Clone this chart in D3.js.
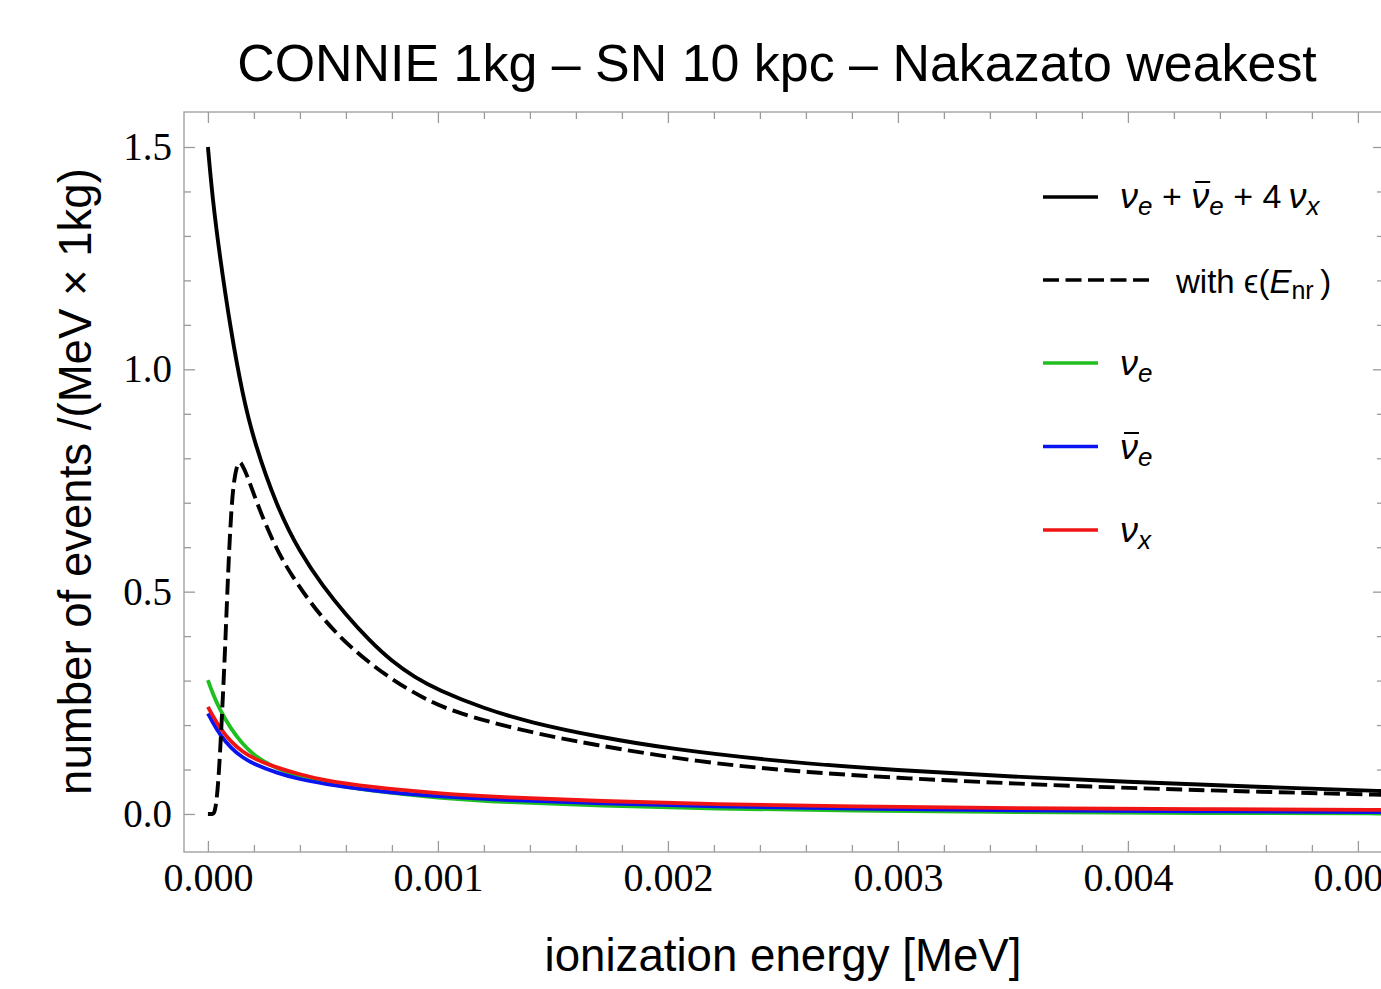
<!DOCTYPE html>
<html>
<head>
<meta charset="utf-8">
<script src="https://cdn.jsdelivr.net/npm/d3@7"></script>
<style>
  html, body { margin: 0; padding: 0; background: #fff; }
  svg { display: block; }
</style>
</head>
<body>
<svg id="chart" width="1381" height="989"></svg>
<script>
// ---------------- DATA ----------------
const titleText = "CONNIE 1kg \u2013 SN 10 kpc \u2013 Nakazato weakest";
const xLabelText = "ionization energy [MeV]";
const yLabelText = "number of events /(MeV \u00d7 1kg)";

const xMajorTicks = [0, 0.001, 0.002, 0.003, 0.004, 0.005];
const yMajorTicks = [0, 0.5, 1.0, 1.5];

// total nu_e + anti-nu_e + 4 nu_x (solid black)
const energyTotal = [0, 0.00002, 0.00005, 0.0001, 0.00015, 0.0002, 0.0003, 0.0004, 0.0005, 0.0006, 0.0007, 0.0008, 0.0009, 0.001, 0.0012, 0.0014, 0.0017, 0.002, 0.0025, 0.003, 0.0035, 0.004, 0.0045, 0.0052];
const totalEvents = [1.50, 1.385, 1.26, 1.085, 0.945, 0.838, 0.69, 0.588, 0.512, 0.448, 0.391, 0.343, 0.307, 0.279, 0.237, 0.206, 0.173, 0.147, 0.117, 0.098, 0.084, 0.072, 0.062, 0.050];

// with efficiency eps(E_nr) (dashed black)
const energyEff = [0, 0.00002, 0.00003, 0.000045, 0.00006, 0.000074, 0.000088, 0.000103, 0.000115, 0.000125, 0.000132, 0.000139, 0.000146, 0.000168, 0.000212, 0.000284, 0.000357, 0.0005, 0.00065, 0.0008, 0.00094, 0.00108, 0.00137, 0.00166, 0.00214, 0.00257, 0.003, 0.00344, 0.0038, 0.0044, 0.0052];
const effEvents = [0, 0, 0, 0.06, 0.21, 0.36, 0.55, 0.70, 0.755, 0.78, 0.788, 0.792, 0.788, 0.766, 0.70, 0.610, 0.540, 0.436, 0.360, 0.302, 0.259, 0.227, 0.187, 0.157, 0.116, 0.095, 0.081, 0.070, 0.062, 0.052, 0.042];

// individual flavours
const energyFlavor = [0, 0.00002, 0.00005, 0.0001, 0.00015, 0.0002, 0.0003, 0.0004, 0.0005, 0.0007, 0.001, 0.0013, 0.0017, 0.0022, 0.0028, 0.0035, 0.0043, 0.0052];
const nuE    = [0.301, 0.272, 0.236, 0.191, 0.158, 0.131, 0.101, 0.084, 0.070, 0.052, 0.036, 0.026, 0.019, 0.012, 0.007, 0.004, 0.002, 0.001];
const nuEbar = [0.226, 0.207, 0.180, 0.148, 0.127, 0.112, 0.092, 0.078, 0.068, 0.053, 0.039, 0.031, 0.024, 0.017, 0.012, 0.008, 0.006, 0.004];
const nuX    = [0.241, 0.222, 0.195, 0.162, 0.140, 0.124, 0.104, 0.089, 0.076, 0.061, 0.046, 0.037, 0.029, 0.022, 0.017, 0.013, 0.011, 0.009];

// ---------------- LAYOUT ----------------
const svg = d3.select("#chart");
const plot = { left: 184, top: 112, right: 1384, bottom: 852 };
const x = d3.scaleLinear().domain([-0.000104, 0.0051135]).range([plot.left, plot.right]);
const y = d3.scaleLinear().domain([-0.0855, 1.5787]).range([plot.bottom, plot.top]);

const frameColor = "#9a9a9a";
const sansFont = "'Liberation Sans', Arial, Helvetica, sans-serif";
const serifFont = "'Liberation Serif', 'Times New Roman', serif";

const xMinor = d3.range(0, 0.00521, 0.0002).filter(v => !xMajorTicks.some(m => Math.abs(m - v) < 1e-9));
const yMinor = d3.range(0, 1.5001, 0.1).filter(v => !yMajorTicks.some(m => Math.abs(m - v) < 1e-9));

// clip
svg.append("defs").append("clipPath").attr("id", "clip")
  .append("rect").attr("x", plot.left).attr("y", plot.top)
  .attr("width", plot.right - plot.left).attr("height", plot.bottom - plot.top);

// axes (ticks inward)
function styleAxis(g) {
  g.select(".domain").remove();
  g.selectAll(".tick line").attr("stroke", frameColor).attr("stroke-width", 1.3);
}
const majLen = 11, minLen = 7;
svg.append("g").attr("transform", `translate(0,${plot.bottom})`)
  .call(d3.axisBottom(x).tickValues(xMajorTicks).tickSize(-majLen).tickPadding(11).tickFormat(d3.format(".3f")))
  .call(styleAxis)
  .call(g => g.selectAll("text").attr("font-family", serifFont).attr("font-size", 40).attr("fill", "#000"));
svg.append("g").attr("transform", `translate(0,${plot.bottom})`)
  .call(d3.axisBottom(x).tickValues(xMinor).tickSize(-minLen).tickFormat(""))
  .call(styleAxis);
svg.append("g").attr("transform", `translate(0,${plot.top})`)
  .call(d3.axisTop(x).tickValues(xMajorTicks).tickSize(-majLen).tickFormat(""))
  .call(styleAxis);
svg.append("g").attr("transform", `translate(0,${plot.top})`)
  .call(d3.axisTop(x).tickValues(xMinor).tickSize(-minLen).tickFormat(""))
  .call(styleAxis);

svg.append("g").attr("transform", `translate(${plot.left},0)`)
  .call(d3.axisLeft(y).tickValues(yMajorTicks).tickSize(-majLen).tickPadding(12).tickFormat(d3.format(".1f")))
  .call(styleAxis)
  .call(g => g.selectAll("text").attr("font-family", serifFont).attr("font-size", 39).attr("fill", "#000"));
svg.append("g").attr("transform", `translate(${plot.left},0)`)
  .call(d3.axisLeft(y).tickValues(yMinor).tickSize(-minLen).tickFormat(""))
  .call(styleAxis);
svg.append("g").attr("transform", `translate(${plot.right},0)`)
  .call(d3.axisRight(y).tickValues(yMajorTicks).tickSize(-majLen).tickFormat(""))
  .call(styleAxis);
svg.append("g").attr("transform", `translate(${plot.right},0)`)
  .call(d3.axisRight(y).tickValues(yMinor).tickSize(-minLen).tickFormat(""))
  .call(styleAxis);

// frame
svg.append("rect").attr("x", plot.left).attr("y", plot.top)
  .attr("width", plot.right - plot.left).attr("height", plot.bottom - plot.top)
  .attr("fill", "none").attr("stroke", frameColor).attr("stroke-width", 1.3);

// curves
const smoothLine = d3.line().x(d => x(d[0])).y(d => y(d[1])).curve(d3.curveBasis);
const gCurves = svg.append("g").attr("clip-path", "url(#clip)");
const series = [
  { e: energyFlavor, v: nuE, color: "#1fbf1f", dash: null, w: 3.8 },
  { e: energyFlavor, v: nuEbar, color: "#0a14f0", dash: null, w: 3.8 },
  { e: energyFlavor, v: nuX, color: "#f01414", dash: null, w: 3.8 },
  { e: energyTotal, v: totalEvents, color: "#000", dash: null, w: 3.9 },
  { e: energyEff, v: effEvents, color: "#000", dash: "16,6.5", w: 3.9 }
];
series.forEach(s => {
  gCurves.append("path")
    .datum(s.e.map((e, i) => [e, s.v[i]]))
    .attr("d", smoothLine)
    .attr("fill", "none")
    .attr("stroke", s.color)
    .attr("stroke-width", s.w)
    .attr("stroke-linejoin", "round")
    .attr("stroke-dasharray", s.dash);
});

// text helper: fit a text element to a target width by font-size
function fitWidth(sel, target) {
  const w = sel.node().getComputedTextLength();
  const fs = parseFloat(sel.attr("font-size"));
  sel.attr("font-size", fs * target / w);
}

// title
const title = svg.append("text").attr("x", 777).attr("y", 81)
  .attr("text-anchor", "middle").attr("font-family", sansFont).attr("font-size", 48)
  .attr("fill", "#000").text(titleText);
fitWidth(title, 1080);

// x label
const xl = svg.append("text").attr("x", 783).attr("y", 971)
  .attr("text-anchor", "middle").attr("font-family", sansFont).attr("font-size", 44)
  .attr("fill", "#000").text(xLabelText);
fitWidth(xl, 477);

// y label
const yl = svg.append("text").attr("transform", "translate(91,481.5) rotate(-90)")
  .attr("text-anchor", "middle").attr("font-family", sansFont).attr("font-size", 40)
  .attr("fill", "#000").text(yLabelText);
fitWidth(yl, 627);

// ---------------- LEGEND ----------------
const legendNames = ["total", "eff", "nue", "nuebar", "nux"];
const legendColors = ["#000", "#000", "#1fbf1f", "#0a14f0", "#f01414"];
const legendDash = [null, "16,6.5", null, null, null];
const legendLineEnd = [1098, 1150, 1098, 1098, 1098];
const legendY = [197, 280, 363, 446.5, 530];
const legendTextX = [1120, 1176, 1120, 1120, 1120];

// segments: t text, s size, dy baseline shift, it italic, bar overline
const NU = "\u03bd";
const legendSegments = [
  [{t: NU, s: 36, it: true}, {t: "e", s: 26, dy: 7, it: true}, {t: " + ", s: 34},
   {t: NU, s: 36, it: true, bar: true}, {t: "e", s: 26, dy: 7, it: true}, {t: " + 4", s: 34},
   {t: "\u2009" + NU, s: 36, it: true}, {t: "x", s: 26, dy: 7, it: true}],
  [{t: "with ", s: 33}, {t: "\u03f5", s: 33}, {t: "(", s: 33}, {t: "E", s: 33, it: true},
   {t: "nr", s: 25, dy: 6}, {t: "\u2009)", s: 33}],
  [{t: NU, s: 36, it: true}, {t: "e", s: 26, dy: 7, it: true}],
  [{t: NU, s: 36, it: true, bar: true}, {t: "e", s: 26, dy: 7, it: true}],
  [{t: NU, s: 36, it: true}, {t: "x", s: 26, dy: 7, it: true}]
];
const legendBaseline = [208, 293, 375, 459, 542];

const gLeg = svg.append("g");
legendNames.forEach((name, i) => {
  gLeg.append("line").attr("x1", 1043).attr("x2", legendLineEnd[i])
    .attr("y1", legendY[i]).attr("y2", legendY[i])
    .attr("stroke", legendColors[i]).attr("stroke-width", 3.4)
    .attr("stroke-dasharray", legendDash[i]);
  let cx = legendTextX[i];
  legendSegments[i].forEach(seg => {
    const t = gLeg.append("text").attr("x", cx).attr("y", legendBaseline[i] + (seg.dy || 0))
      .attr("font-family", sansFont).attr("font-size", seg.s)
      .attr("font-style", seg.it ? "italic" : "normal")
      .attr("fill", "#000").style("white-space", "pre").text(seg.t);
    const w = t.node().getComputedTextLength();
    if (seg.bar) {
      gLeg.append("line").attr("x1", cx + 4).attr("x2", cx + w + 1)
        .attr("y1", legendBaseline[i] - 26).attr("y2", legendBaseline[i] - 26)
        .attr("stroke", "#000").attr("stroke-width", 2);
    }
    cx += w;
  });
});
</script>
</body>
</html>
